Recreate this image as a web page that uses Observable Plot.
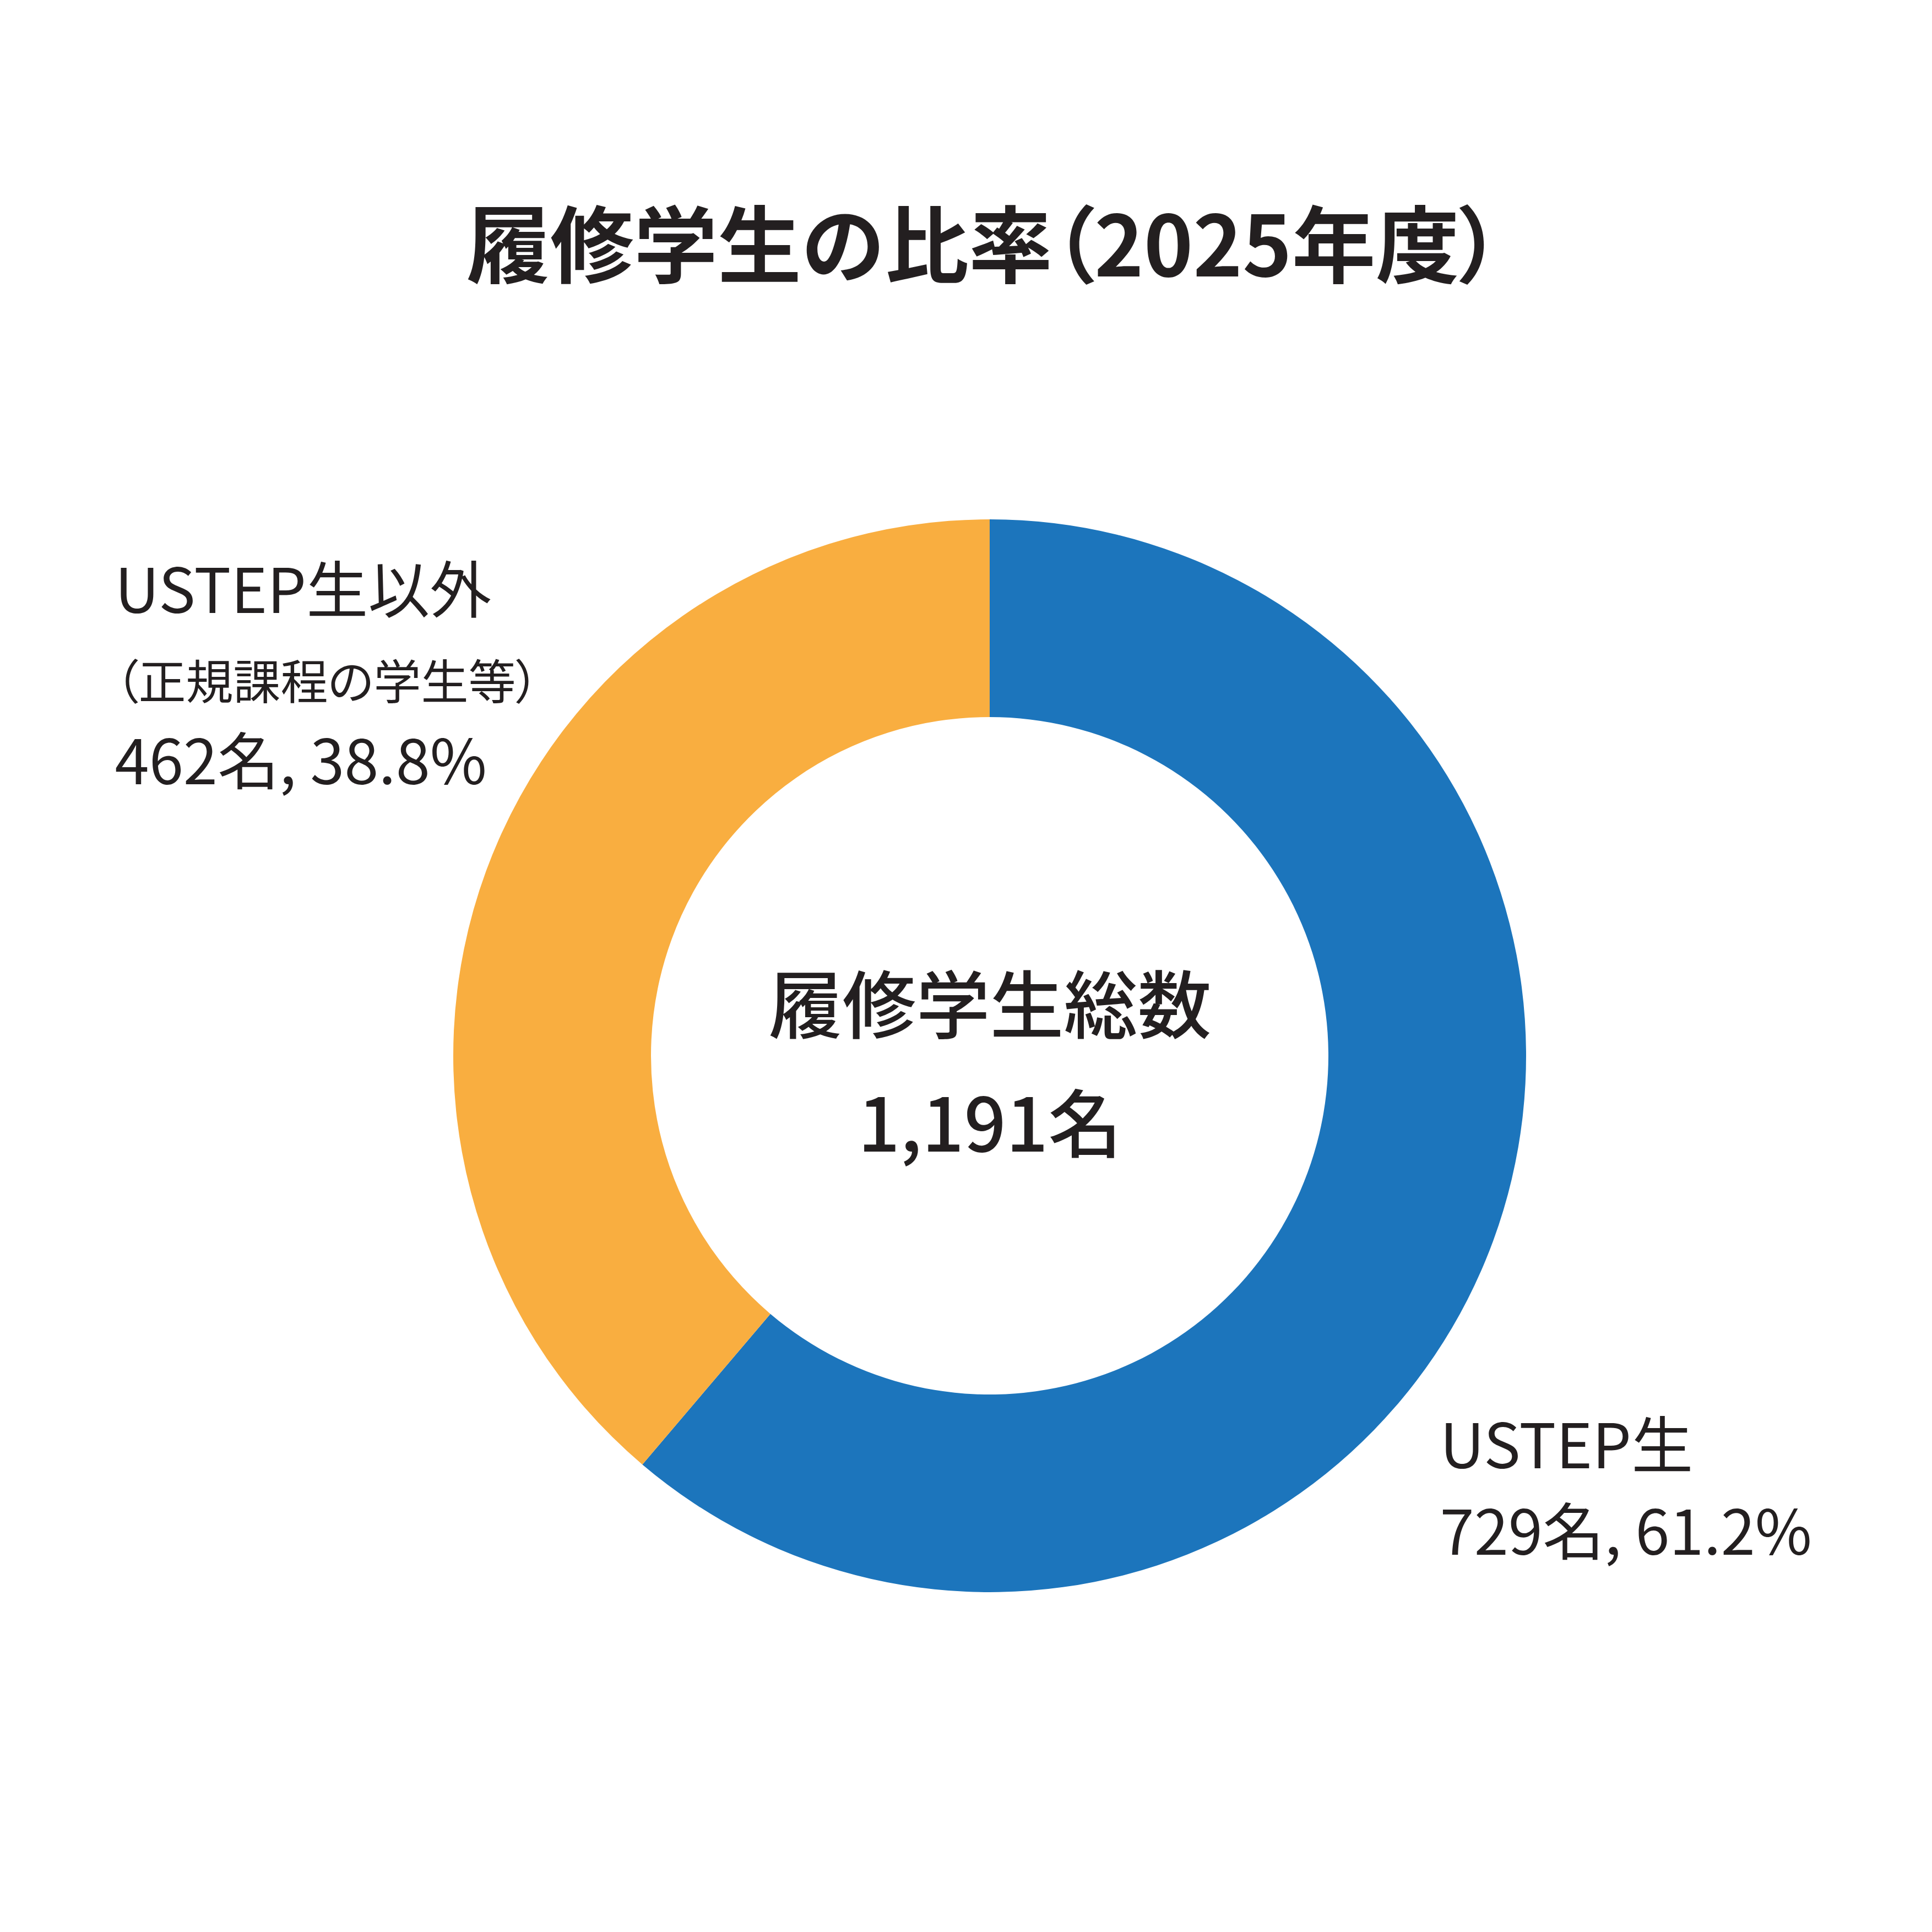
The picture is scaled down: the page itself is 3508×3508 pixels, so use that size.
<!DOCTYPE html>
<html lang="ja">
<head>
<meta charset="utf-8">
<script src="https://cdn.jsdelivr.net/npm/d3@7"></script>
<script src="https://cdn.jsdelivr.net/npm/@observablehq/plot@0.6"></script>
<style>
  html, body { margin: 0; padding: 0; background: #ffffff; }
  #wrap { width: 3508px; height: 3508px; position: relative; background: #fff; font-family: "Noto Sans CJK JP", "Noto Sans", sans-serif; }
  #title { position: relative; width: 3508px; height: 620px; }
  #title span.t { position: absolute; left: 847px; top: 360px; white-space: nowrap;
    font-size: 152px; line-height: 152px; font-weight: 700; color: #231f20; }
  #title span.p { font-feature-settings: "palt"; }
  #chart svg { display: block; }
  #chart text.note { font-feature-settings: "palt"; }
</style>
</head>
<body>
<div id="wrap">
  <div id="title"><span class="t">履修学生の比率<span class="p">（</span>2025年度<span class="p">）</span></span></div>
  <div id="chart"></div>
</div>
<script>
// ---- data ----
const categories = ["USTEP生", "USTEP生以外"];
const counts = [729, 462];
const shares = [61.2, 38.8];
const notes = ["", "（正規課程の学生等）"];
const total = 1191;
const centerTitle = "履修学生総数";
const colors = ["#1c75bc", "#f9ae40"];

// ---- layout (pixels) ----
const W = 3508, H = 2888;
const CX = 1797, CY = 1297;
const R_OUT = 974, R_IN = 615;
const ink = "#231f20";
const font = "Noto Sans CJK JP";

const colorScale = Plot.scale({color: {type: "ordinal", domain: categories, range: colors}});
const fmt = d3.format(",");

const donut = (index, scales) => {
  const cx = scales.x(CX), cy = scales.y(CY);
  const ro = scales.x(CX + R_OUT) - cx;
  const ri = scales.x(CX + R_IN) - cx;
  const arcs = d3.pie().sort(null).value(d => d)(counts);
  const arc = d3.arc().innerRadius(ri).outerRadius(ro);
  const g = d3.create("svg:g").attr("transform", `translate(${cx},${cy})`);
  g.selectAll("path").data(arcs).join("path")
    .attr("d", arc)
    .attr("fill", (d, i) => colorScale.apply(categories[i]));
  return g.node();
};

const labelText = i => `${counts[i]}名, ${shares[i]}%`;

const textOpts = (extra) => Object.assign({
  fill: ink, fontFamily: font, lineAnchor: "bottom"
}, extra);

const plot = Plot.plot({
  width: W,
  height: H,
  margin: 0,
  x: {domain: [0, W], range: [0, W], axis: null},
  y: {domain: [0, H], range: [0, H], axis: null},
  style: {background: "#ffffff", fontFamily: font},
  marks: [
    donut,
    // left label (USTEP生以外)
    Plot.text([categories[1]], textOpts({x: () => 208, y: () => 492, text: d => d, fontSize: 112, textAnchor: "start"})),
    Plot.text([notes[1]], textOpts({x: () => 208, y: () => 649, text: d => d, fontSize: 86, textAnchor: "start", className: "note"})),
    Plot.text([labelText(1)], textOpts({x: () => 208, y: () => 803, text: d => d, fontSize: 112, textAnchor: "start"})),
    // right label (USTEP生)
    Plot.text([categories[0]], textOpts({x: () => 2614, y: () => 2045, text: d => d, fontSize: 112, textAnchor: "start"})),
    Plot.text([labelText(0)], textOpts({x: () => 2614, y: () => 2202, text: d => d, fontSize: 112, textAnchor: "start"})),
    // center
    Plot.text([centerTitle], textOpts({x: () => CX, y: () => 1254, text: d => d, fontSize: 134, fontWeight: 500, textAnchor: "middle"})),
    Plot.text([`${fmt(total)}名`], textOpts({x: () => CX, y: () => 1470, text: d => d, fontSize: 134, fontWeight: 500, textAnchor: "middle"}))
  ]
});
// palt for the note line (proportional parentheses)
d3.select(plot).selectAll("text").filter(function() { return this.textContent === notes[1]; })
  .style("font-feature-settings", "'palt'");
document.getElementById("chart").appendChild(plot);
</script>
</body>
</html>
